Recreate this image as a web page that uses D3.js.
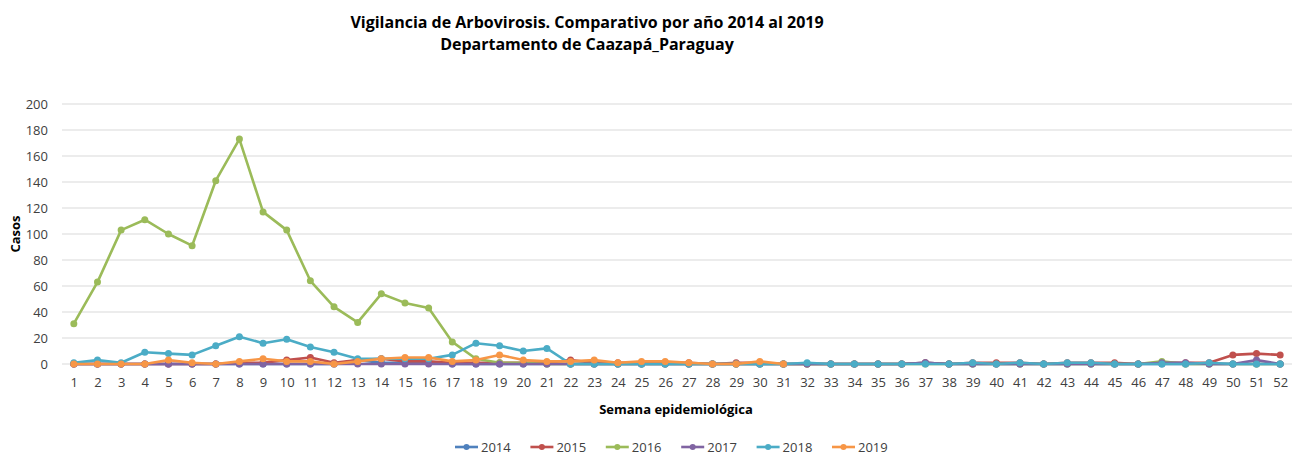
<!DOCTYPE html>
<html>
<head>
<meta charset="utf-8">
<script src="https://cdn.jsdelivr.net/npm/d3@7"></script>
<style>
  body { margin: 0; background: #fff; }
  text { font-family: "Open Sans", "Noto Sans", sans-serif; fill: #262626; }
  .title { font-weight: bold; font-size: 16px; fill: #000; }
  .axis-label { font-weight: bold; font-size: 13px; fill: #000; }
  .tick text { font-size: 13px; fill: #404040; }
  .legend text { font-size: 13px; fill: #404040; }
</style>
</head>
<body>
<div id="chart"></div>
<script>
// Weeks (x categories)
const weeks = [1,2,3,4,5,6,7,8,9,10,11,12,13,14,15,16,17,18,19,20,21,22,23,24,25,26,
  27,28,29,30,31,32,33,34,35,36,37,38,39,40,41,42,43,44,45,46,47,48,49,50,51,52];

const yTicks = [0, 20, 40, 60, 80, 100, 120, 140, 160, 180, 200];

// Cases per week for each year
const cases2014 = [0,0,0,0,0,0,0,0,0,0,0,0,3,1,1,1,0,0,0,0,0,0,0,0,0,0,0,0,0,0,0,0,0,0,0,0,1,0,0,0,0,0,0,0,0,0,0,0,0,0,0,0];
const cases2015 = [0,0,0,0,0,0,0,1,1,3,5,1,3,4,2,2,1,1,1,1,1,3,1,1,1,1,1,0,1,1,0,0,0,0,0,0,1,0,1,1,1,0,1,1,1,0,1,1,1,7,8,7];
const cases2016 = [31,63,103,111,100,91,141,173,117,103,64,44,32,54,47,43,17,4,1,1,0,0,0,0,0,0,0,0,0,0,0,0,0,0,0,0,0,0,0,0,0,0,0,0,0,0,2,0,0,0,0,0];
const cases2017 = [0,0,0,0,0,0,0,0,0,0,0,0,0,0,0,0,0,0,0,0,0,0,0,0,0,0,0,0,0,0,0,0,0,0,0,0,1,0,0,0,0,0,0,0,0,0,1,1,0,0,3,0];
const cases2018 = [1,3,1,9,8,7,14,21,16,19,13,9,4,4,4,4,7,16,14,10,12,0,0,0,0,0,0,0,0,0,0,1,0,0,0,0,0,0,1,0,1,0,1,1,0,0,0,0,1,0,0,0];
const cases2019 = [0,0,0,0,3,1,0,2,4,2,2,0,2,4,5,5,2,3,7,3,2,2,3,1,2,2,1,0,0,2,0];

const years = ["2014", "2015", "2016", "2017", "2018", "2019"];
const seriesValues = [cases2014, cases2015, cases2016, cases2017, cases2018, cases2019];
const colors = ["#4F81BD", "#C0504D", "#9BBB59", "#8064A2", "#4BACC6", "#F79646"];

const width = 1296, height = 455;
const margin = { top: 104, right: 4, bottom: 91, left: 62 };
const innerW = width - margin.left - margin.right;
const innerH = height - margin.top - margin.bottom;

const svg = d3.select("#chart").append("svg")
  .attr("width", width)
  .attr("height", height);

svg.append("rect").attr("width", width).attr("height", height).attr("fill", "#fff");

// Titles
svg.append("text").attr("class", "title")
  .attr("x", 587).attr("y", 28).attr("text-anchor", "middle")
  .text("Vigilancia de Arbovirosis. Comparativo por año 2014 al 2019");
svg.append("text").attr("class", "title")
  .attr("x", 587).attr("y", 50).attr("text-anchor", "middle")
  .text("Departamento de Caazapá_Paraguay");

const chart = svg.append("g")
  .attr("transform", `translate(${margin.left},${margin.top})`);

const xScale = d3.scalePoint().domain(weeks).range([0, innerW]).padding(0.5);
const yScale = d3.scaleLinear().domain([0, 200]).range([innerH, 0]);

// Gridlines
chart.append("g")
  .selectAll("line")
  .data(yTicks)
  .join("line")
  .attr("x1", 0).attr("x2", innerW)
  .attr("y1", d => yScale(d)).attr("y2", d => yScale(d))
  .attr("stroke", "#d9d9d9").attr("stroke-width", 1);

// Y axis
const yAxis = d3.axisLeft(yScale).tickValues(yTicks).tickSize(0).tickPadding(14);
chart.append("g").call(yAxis).call(g => g.select(".domain").remove());

// X axis
const xAxis = d3.axisBottom(xScale).tickSize(0).tickPadding(14);
chart.append("g")
  .attr("transform", `translate(0,${innerH})`)
  .call(xAxis)
  .call(g => g.select(".domain").remove());

// Axis labels
svg.append("text").attr("class", "axis-label")
  .attr("x", 676).attr("y", 414).attr("text-anchor", "middle")
  .text("Semana epidemiológica");
svg.append("text").attr("class", "axis-label")
  .attr("transform", "translate(20,234) rotate(-90)")
  .attr("text-anchor", "middle")
  .text("Casos");

// Lines and markers
const line = d3.line()
  .x((d, i) => xScale(weeks[i]))
  .y(d => yScale(d));

seriesValues.forEach((vals, s) => {
  const g = chart.append("g");
  g.append("path")
    .datum(vals)
    .attr("fill", "none")
    .attr("stroke", colors[s])
    .attr("stroke-width", 2.6)
    .attr("stroke-linejoin", "round")
    .attr("d", line);
  g.selectAll("circle")
    .data(vals)
    .join("circle")
    .attr("cx", (d, i) => xScale(weeks[i]))
    .attr("cy", d => yScale(d))
    .attr("r", 3.5)
    .attr("fill", colors[s]);
});

// Legend
const legend = svg.append("g").attr("class", "legend")
  .attr("transform", "translate(455,447)");
years.forEach((yr, i) => {
  const item = legend.append("g").attr("transform", `translate(${i * 75.4},0)`);
  item.append("line").attr("x1", 0).attr("x2", 23).attr("y1", 0).attr("y2", 0)
    .attr("stroke", colors[i]).attr("stroke-width", 2.6);
  item.append("circle").attr("cx", 11.5).attr("cy", 0).attr("r", 3).attr("fill", colors[i]);
  item.append("text").attr("x", 26).attr("y", 0).attr("dy", "0.35em").text(yr);
});
</script>
</body>
</html>
